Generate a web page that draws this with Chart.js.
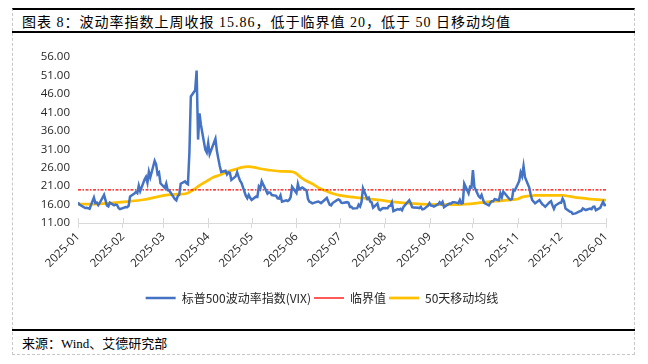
<!DOCTYPE html>
<html>
<head>
<meta charset="utf-8">
<script src="https://cdn.jsdelivr.net/npm/chart.js@4.4.1/dist/chart.umd.min.js"></script>
<style>
  body { margin: 0; width: 648px; height: 364px; background: #fff; position: relative; overflow: hidden; }
  .frame { position: absolute; left: 12px; top: 8px; width: 621px; height: 344px;
           border-top: 2px solid #000; border-left: 1px dashed #c8c8c8; border-right: 1px dashed #c8c8c8;
           border-bottom: 1px dashed #c8c8c8; }
  .rule { position: absolute; left: 12px; width: 623px; height: 2px; background: #000; }
  .title { position: absolute; left: 22px; top: 11px; font: 14px "Liberation Serif", "Noto Sans CJK SC"; letter-spacing: 1px; color: #000; white-space: nowrap; }
  .source { position: absolute; left: 22px; top: 333px; font: 13px "Liberation Serif", "Noto Sans CJK SC"; color: #000; white-space: nowrap; }
  #vixChart { position: absolute; left: 0; top: 0; }
</style>
</head>
<body>
<div class="frame"></div>
<div class="rule" style="top:31px"></div>
<div class="rule" style="top:329px"></div>
<div class="title">图表 8：波动率指数上周收报 15.86，低于临界值 20，低于 50 日移动均值</div>
<div class="source">来源：Wind、艾德研究部</div>
<canvas id="vixChart" width="648" height="364"></canvas>
<script>
// dates as placed on the chart's date axis
var vixDates = [
  '2025-01-01','2025-01-02','2025-01-06','2025-01-07','2025-01-08','2025-01-09','2025-01-12','2025-01-13','2025-01-14','2025-01-15',
  '2025-01-16','2025-01-19','2025-01-20','2025-01-21','2025-01-22','2025-01-23','2025-01-26','2025-01-27','2025-01-28','2025-01-29',
  '2025-01-30','2025-02-03','2025-02-04','2025-02-05','2025-02-06','2025-02-09','2025-02-10','2025-02-11','2025-02-12','2025-02-13',
  '2025-02-16','2025-02-17','2025-02-18','2025-02-19','2025-02-20','2025-02-23','2025-02-24','2025-02-25','2025-02-26','2025-02-27',
  '2025-03-02','2025-03-03','2025-03-04','2025-03-05','2025-03-06','2025-03-09','2025-03-10','2025-03-11','2025-03-12','2025-03-13',
  '2025-03-16','2025-03-17','2025-03-18','2025-03-19','2025-03-20','2025-03-23','2025-03-24','2025-03-25','2025-03-26','2025-03-27',
  '2025-03-30','2025-03-31','2025-04-01','2025-04-02','2025-04-06','2025-04-07','2025-04-08','2025-04-09','2025-04-10','2025-04-13',
  '2025-04-14','2025-04-15','2025-04-16','2025-04-17','2025-04-20','2025-04-21','2025-04-22','2025-04-23','2025-04-24','2025-04-27',
  '2025-04-28','2025-04-29','2025-04-30','2025-05-01','2025-05-04','2025-05-05','2025-05-06','2025-05-07','2025-05-08','2025-05-12',
  '2025-05-13','2025-05-14','2025-05-15','2025-05-18','2025-05-19','2025-05-20','2025-05-21','2025-05-22','2025-05-25','2025-05-26',
  '2025-05-27','2025-05-28','2025-05-29','2025-06-01','2025-06-02','2025-06-03','2025-06-05','2025-06-08','2025-06-09','2025-06-10',
  '2025-06-11','2025-06-12','2025-06-15','2025-06-16','2025-06-17','2025-06-18','2025-06-22','2025-06-23','2025-06-24','2025-06-25',
  '2025-06-26','2025-06-29','2025-06-30','2025-07-01','2025-07-02','2025-07-03','2025-07-06','2025-07-07','2025-07-08','2025-07-09',
  '2025-07-10','2025-07-13','2025-07-14','2025-07-15','2025-07-16','2025-07-17','2025-07-20','2025-07-21','2025-07-22','2025-07-23',
  '2025-07-24','2025-07-27','2025-07-28','2025-07-29','2025-07-30','2025-07-31','2025-08-03','2025-08-04','2025-08-05','2025-08-06',
  '2025-08-07','2025-08-10','2025-08-11','2025-08-12','2025-08-13','2025-08-14','2025-08-18','2025-08-19','2025-08-20','2025-08-21',
  '2025-08-24','2025-08-25','2025-08-26','2025-08-27','2025-08-28','2025-08-31','2025-09-01','2025-09-02','2025-09-03','2025-09-04',
  '2025-09-07','2025-09-08','2025-09-09','2025-09-10','2025-09-11','2025-09-14','2025-09-15','2025-09-16','2025-09-17','2025-09-18',
  '2025-09-21','2025-09-22','2025-09-23','2025-09-24','2025-09-25','2025-09-28','2025-09-29','2025-09-30','2025-10-01','2025-10-02',
  '2025-10-05','2025-10-06','2025-10-07','2025-10-08','2025-10-09','2025-10-12','2025-10-13','2025-10-14','2025-10-15','2025-10-16',
  '2025-10-19','2025-10-20','2025-10-21','2025-10-22','2025-10-23','2025-10-26','2025-10-27','2025-10-28','2025-10-29','2025-10-30',
  '2025-11-02','2025-11-03','2025-11-04','2025-11-05','2025-11-06','2025-11-09','2025-11-10','2025-11-11','2025-11-13','2025-11-16',
  '2025-11-17','2025-11-18','2025-11-19','2025-11-20','2025-11-23','2025-11-24','2025-11-25','2025-11-26','2025-11-27','2025-11-30',
  '2025-12-01','2025-12-02','2025-12-03','2025-12-04','2025-12-07','2025-12-08','2025-12-09','2025-12-11','2025-12-14','2025-12-15',
  '2025-12-16','2025-12-18','2025-12-21','2025-12-22','2025-12-23','2025-12-24','2025-12-25','2025-12-28','2025-12-29','2025-12-30',
  '2025-12-31','2026-01-01'
];
var vixValues = [
  16.60,15.97,15.06,15.10,15.02,14.85,17.90,16.41,16.56,15.84,
  16.43,18.62,17.21,15.77,15.50,16.54,15.81,16.02,15.89,15.10,
  14.77,15.35,15.27,15.66,18.21,18.98,19.43,19.10,21.13,19.63,
  22.78,23.51,21.93,24.87,23.37,27.86,26.92,24.23,24.66,21.77,
  20.51,21.70,19.90,19.80,19.28,17.48,17.15,18.33,18.69,21.65,
  22.28,21.77,21.51,30.02,45.31,46.98,52.33,33.62,40.72,37.56,
  30.89,30.12,32.64,29.65,33.82,30.57,28.45,26.47,24.84,25.15,
  24.17,24.70,24.60,22.68,23.64,24.76,23.55,22.48,21.90,18.39,
  17.72,18.62,17.83,17.24,18.14,18.09,20.87,20.28,22.29,18.96,
  19.31,19.18,18.57,18.36,17.69,17.61,18.48,16.77,17.16,16.95,
  17.26,18.02,20.82,19.11,21.60,20.14,20.62,19.83,17.48,16.76,
  16.59,16.32,16.73,16.83,16.64,16.38,17.79,16.81,15.94,15.78,
  16.40,17.20,17.38,17.16,16.52,16.41,16.65,16.50,15.37,15.39,
  14.93,15.03,15.98,15.48,16.72,20.38,17.52,17.85,16.77,16.57,
  15.15,16.25,14.73,14.49,14.83,15.09,14.99,15.57,15.69,16.60,
  14.22,14.79,14.62,14.85,14.43,15.36,17.17,16.35,15.30,15.18,
  15.11,15.04,15.35,14.71,14.76,15.69,16.36,15.72,15.70,15.45,
  16.10,16.64,16.18,16.74,15.29,16.12,16.28,16.29,16.63,16.65,
  16.37,17.24,16.30,16.43,21.66,19.03,20.81,20.64,25.31,20.78,
  18.23,17.87,18.60,17.30,16.37,15.79,16.42,16.92,16.91,17.44,
  17.17,19.00,18.01,19.50,19.08,17.60,17.28,17.51,20.00,19.83,
  22.38,24.69,23.66,26.42,23.43,20.52,18.56,17.19,16.35,17.24,
  16.59,16.08,15.78,15.41,16.66,16.93,15.77,14.85,15.74,16.50,
  16.48,17.62,16.87,14.91,14.08,14.00,13.47,13.60,14.20,14.33,
  14.95,14.51,14.90,14.75,15.38,15.45,14.49,15.12,15.98,16.75,
  15.84,15.86
];

// 50-day moving average
var maDates = [
  '2025-01-01','2025-01-16','2025-01-27','2025-02-04','2025-02-15','2025-02-27','2025-03-04','2025-03-11','2025-03-17','2025-03-20',
  '2025-03-23','2025-03-25','2025-03-29','2025-04-01','2025-04-04','2025-04-09','2025-04-14','2025-04-20','2025-04-24','2025-04-29',
  '2025-05-03','2025-05-07','2025-05-14','2025-05-21','2025-05-28','2025-05-31','2025-06-04','2025-06-08','2025-06-13','2025-06-17',
  '2025-06-22','2025-06-26','2025-07-01','2025-07-08','2025-07-15','2025-07-22','2025-07-29','2025-08-05','2025-08-12','2025-08-19',
  '2025-08-26','2025-09-08','2025-09-19','2025-09-29','2025-10-06','2025-10-13','2025-10-20','2025-10-27','2025-11-01','2025-11-04',
  '2025-11-08','2025-11-13','2025-11-24','2025-12-02','2025-12-07','2025-12-14','2025-12-21','2026-01-01'
];
var ma50 = [
  16.1,16.2,16.5,16.8,17.3,18.3,18.6,18.8,19.0,19.6,
  20.3,20.9,21.9,22.6,23.3,24.0,24.9,25.6,26.1,26.3,
  26.1,25.7,25.3,25.0,24.9,24.6,23.4,22.4,21.4,20.4,
  19.6,19.0,18.5,18.1,17.8,17.5,17.2,16.8,16.5,16.3,
  16.1,16.0,16.0,16.2,16.5,16.8,17.0,17.3,17.5,18.0,
  18.3,18.5,18.5,18.5,18.2,17.8,17.5,17.2
];

var threshold = 20;
var monthLabels = ['2025-01','2025-02','2025-03','2025-04','2025-05','2025-06','2025-07',
                   '2025-08','2025-09','2025-10','2025-11','2025-12','2026-01'];

function dayNum(s) {
  var p = s.split('-');
  return (Date.UTC(+p[0], +p[1] - 1, +(p[2] || 1)) - Date.UTC(2025, 0, 1)) / 86400000;
}
function pairs(ds, vs) {
  return ds.map(function (d, i) { return { x: dayNum(d), y: vs[i] }; });
}

var monthDays = monthLabels.map(function (m) { return dayNum(m + '-01'); });
var xMin = monthDays[0], xMax = monthDays[monthDays.length - 1];

// cross-type tick marks on the date axis, the part above the axis line
var crossTicks = {
  id: 'crossTicks',
  afterDraw: function (c) {
    var x = c.scales.x, ctx = c.ctx, b = c.chartArea.bottom;
    ctx.save();
    ctx.strokeStyle = '#d9d9d9';
    ctx.lineWidth = 1;
    monthDays.forEach(function (d) {
      var px = Math.round(x.getPixelForValue(d)) + 0.5;
      ctx.beginPath(); ctx.moveTo(px, b - 5); ctx.lineTo(px, b); ctx.stroke();
    });
    ctx.restore();
  }
};

var ctx = document.getElementById('vixChart').getContext('2d');
var chart = new Chart(ctx, {
  type: 'line',
  data: {
    datasets: [
      { label: '标普500波动率指数(VIX)', data: pairs(vixDates, vixValues),
        borderColor: '#4472C4', borderWidth: 2.5, pointRadius: 0, tension: 0 },
      { label: '临界值', data: [{ x: xMin, y: threshold }, { x: xMax, y: threshold }],
        borderColor: '#FF0000', borderWidth: 1.3, borderDash: [3, 1.5, 1.5, 1.5], pointRadius: 0 },
      { label: '50天移动均线', data: pairs(maDates, ma50),
        borderColor: '#FFC000', borderWidth: 2.75, pointRadius: 0, cubicInterpolationMode: 'monotone' }
    ]
  },
  options: {
    responsive: false,
    animation: false,
    layout: { padding: { left: 38, right: 42, top: 57, bottom: 50 } },
    scales: {
      x: {
        type: 'linear', min: xMin, max: xMax,
        afterBuildTicks: function (s) { s.ticks = monthDays.map(function (v) { return { value: v }; }); },
        afterFit: function (s) { s.height = 66; },
        ticks: {
          autoSkip: false, minRotation: 45, maxRotation: 45, padding: 2,
          color: '#262626', font: { family: 'Open Sans', size: 11.5 },
          callback: function (v) { return monthLabels[monthDays.indexOf(v)]; }
        },
        grid: { drawOnChartArea: false, color: '#d9d9d9', tickLength: 5 },
        border: { color: '#d9d9d9' }
      },
      y: {
        min: 11, max: 56,
        afterFit: function (s) { s.width = 40; },
        ticks: { stepSize: 5, padding: 8, color: '#262626', font: { family: 'Open Sans', size: 11.5 },
                 callback: function (v) { return v.toFixed(2); } },
        grid: { display: false, drawTicks: false },
        border: { display: false }
      }
    },
    plugins: {
      legend: {
        position: 'bottom',
        labels: { usePointStyle: true, pointStyle: 'line', pointStyleWidth: 30, padding: 3,
                  color: '#262626', font: { family: 'Noto Sans CJK SC', size: 12 } }
      },
      tooltip: { enabled: false }
    }
  },
  plugins: [crossTicks]
});
</script>
</body>
</html>
